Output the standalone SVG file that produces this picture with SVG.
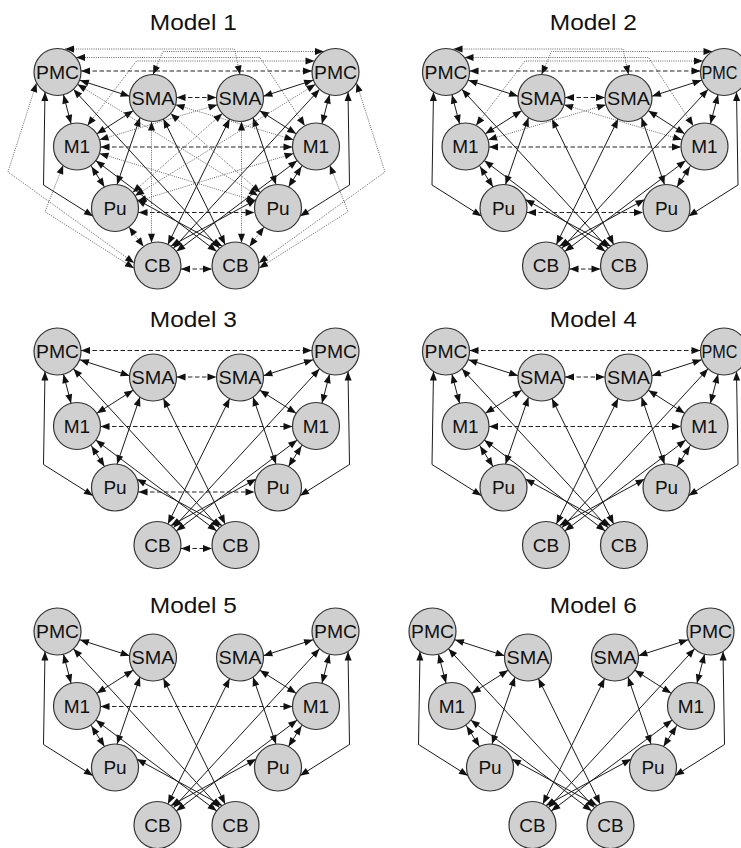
<svg xmlns="http://www.w3.org/2000/svg" width="741" height="848" viewBox="0 0 741 848">
<defs>
<style>
.n circle{fill:#d0d0d0;stroke:#333;stroke-width:1.2}
.n text{font-family:"Liberation Sans",Arial,sans-serif;font-size:19px;fill:#111;text-anchor:middle}
.title{font-family:"Liberation Sans",Arial,sans-serif;font-size:21.5px;fill:#111;text-anchor:middle}
.s{fill:none;stroke:#1a1a1a;stroke-width:1;marker-start:url(#c);marker-end:url(#c)}
.st{fill:none;stroke:#1a1a1a;stroke-width:1;marker-start:url(#t);marker-end:url(#t)}
.d{fill:none;stroke:#222;stroke-width:1;stroke-dasharray:4.5 2.5;marker-start:url(#c);marker-end:url(#c)}
.o{fill:none;stroke:#555;stroke-width:0.9;stroke-dasharray:1 1.2;marker-start:url(#c);marker-end:url(#c)}
.ot{fill:none;stroke:#555;stroke-width:0.9;stroke-dasharray:1 1.2;marker-start:url(#t);marker-end:url(#t)}
</style>
<marker id="c" markerUnits="userSpaceOnUse" markerWidth="1" markerHeight="1" refX="0" refY="0" orient="auto-start-reverse" overflow="visible" style="overflow:visible">
<path d="M-23.5,0 L-32.5,-3.5 L-32.5,3.5 Z" fill="#111"/>
</marker>
<marker id="t" markerUnits="userSpaceOnUse" markerWidth="1" markerHeight="1" refX="0" refY="0" orient="auto-start-reverse" overflow="visible" style="overflow:visible">
<path d="M0,0 L-9,-3.5 L-9,3.5 Z" fill="#111"/>
</marker>
</defs>
<rect width="741" height="848" fill="#fff"/>

<text class="title" x="193.3" y="29.5" textLength="87" lengthAdjust="spacingAndGlyphs">Model 1</text>
<text class="title" x="593.3" y="29.5" textLength="87" lengthAdjust="spacingAndGlyphs">Model 2</text>
<text class="title" x="193.3" y="327" textLength="87" lengthAdjust="spacingAndGlyphs">Model 3</text>
<text class="title" x="593.3" y="327" textLength="87" lengthAdjust="spacingAndGlyphs">Model 4</text>
<text class="title" x="193.3" y="613" textLength="87" lengthAdjust="spacingAndGlyphs">Model 5</text>
<text class="title" x="593.3" y="613" textLength="87" lengthAdjust="spacingAndGlyphs">Model 6</text>

<!-- MODEL 1 -->
<g id="model1" transform="translate(0,0)">
<g id="model1-connectors">
<path class="s" d="M57.5,73 L152,103.5"/><path class="s" d="M57.5,72 L77,146.5"/><path class="st" d="M45,92 L43.5,185 L93,216.2"/><path class="s" d="M57.5,72 L235.5,265.5"/><path class="s" d="M153,98 L77,146.5"/><path class="st" d="M140,117.6 L117,184.6"/><path class="s" d="M153,98 L235.5,265.5"/><path class="s" d="M79,146.5 L117,207"/><path class="s" d="M77,146.5 L235.5,265.5"/><path class="st" d="M136.9,199.6 L222.3,246.2"/>
<path class="s" d="M335.5,73 L241,103.5"/><path class="s" d="M335.5,72 L316,146.5"/><path class="st" d="M348,92 L349.5,185 L300,216.2"/><path class="s" d="M335.5,72 L157.5,265.5"/><path class="s" d="M240,98 L316,146.5"/><path class="st" d="M253,117.6 L276,184.6"/><path class="s" d="M240,98 L157.5,265.5"/><path class="s" d="M314,146.5 L276,207"/><path class="s" d="M316,146.5 L157.5,265.5"/><path class="st" d="M256.1,199.6 L170.7,246.2"/>
<path class="d" d="M57.5,71 L335.5,71"/><path class="d" d="M153,97.5 L240,97.5"/><path class="d" d="M77,147 L316,147"/><path class="d" d="M115,212.5 L278,212.5"/><path class="d" d="M157.5,269 L235.5,269"/>
<path class="ot" d="M65,49 L234.5,49 L240,74.5"/><path class="ot" d="M324,51.5 L163,51.5 L153,74.5"/><path class="ot" d="M76,57.5 L260,57.5 L304.8,125.8"/><path class="ot" d="M314.5,61 L136.5,61 L87.5,125.5"/>
<path class="o" d="M77,146.5 L240,98"/><path class="o" d="M153,98 L316,146.5"/>
<path class="o" d="M57.5,72 L278,208"/><path class="o" d="M335.5,72 L115,208"/><path class="o" d="M153,98 L278,208"/><path class="o" d="M240,98 L115,208"/><path class="o" d="M77,146.5 L278,208"/><path class="o" d="M316,146.5 L115,208"/>
<path class="ot" d="M36.5,83 L8,172 L134.2,263"/><path class="ot" d="M356.5,83 L385,172 L258.8,263"/><path class="ot" d="M63.2,165.2 L45,211.7 L134,268.2"/><path class="ot" d="M329.8,165.2 L348,211.7 L259,268.2"/><path class="ot" d="M151.5,121.5 L151.5,242.8"/><path class="ot" d="M241.5,121.5 L241.5,242.8"/>
<path class="o" d="M115,208 L157.5,265.5"/><path class="o" d="M278,208 L235.5,265.5"/>
</g>
<g id="m1-pmc-l" class="n"><circle cx="57.5" cy="72" r="23.5"/><text x="57.5" y="78.8" textLength="43" lengthAdjust="spacingAndGlyphs">PMC</text></g>
<g id="m1-sma-l" class="n"><circle cx="153" cy="98" r="23.5"/><text x="153" y="104.8" textLength="43" lengthAdjust="spacingAndGlyphs">SMA</text></g>
<g id="m1-m1-l" class="n"><circle cx="77" cy="146.5" r="23.5"/><text x="77" y="153.3">M1</text></g>
<g id="m1-pu-l" class="n"><circle cx="115" cy="208" r="23.5"/><text x="115" y="214.8">Pu</text></g>
<g id="m1-cb-l" class="n"><circle cx="157.5" cy="265.5" r="23.5"/><text x="157.5" y="272.3">CB</text></g>
<g id="m1-pmc-r" class="n"><circle cx="335.5" cy="72" r="23.5"/><text x="335.5" y="78.8" textLength="43" lengthAdjust="spacingAndGlyphs">PMC</text></g>
<g id="m1-sma-r" class="n"><circle cx="240" cy="98" r="23.5"/><text x="240" y="104.8" textLength="43" lengthAdjust="spacingAndGlyphs">SMA</text></g>
<g id="m1-m1-r" class="n"><circle cx="316" cy="146.5" r="23.5"/><text x="316" y="153.3">M1</text></g>
<g id="m1-pu-r" class="n"><circle cx="278" cy="208" r="23.5"/><text x="278" y="214.8">Pu</text></g>
<g id="m1-cb-r" class="n"><circle cx="235.5" cy="265.5" r="23.5"/><text x="235.5" y="272.3">CB</text></g>
</g>

<!-- MODEL 2 -->
<g id="model2" transform="translate(388.5,0)">
<g id="model2-connectors">
<path class="s" d="M57.5,73 L152,103.5"/><path class="s" d="M57.5,72 L77,146.5"/><path class="st" d="M45,92 L43.5,185 L93,216.2"/><path class="s" d="M57.5,72 L235.5,265.5"/><path class="s" d="M153,98 L77,146.5"/><path class="st" d="M140,117.6 L117,184.6"/><path class="s" d="M153,98 L235.5,265.5"/><path class="s" d="M79,146.5 L117,207"/><path class="s" d="M77,146.5 L235.5,265.5"/><path class="st" d="M136.9,199.6 L222.3,246.2"/>
<path class="s" d="M335.5,73 L241,103.5"/><path class="s" d="M335.5,72 L316,146.5"/><path class="st" d="M348,92 L349.5,185 L300,216.2"/><path class="s" d="M335.5,72 L157.5,265.5"/><path class="s" d="M240,98 L316,146.5"/><path class="st" d="M253,117.6 L276,184.6"/><path class="s" d="M240,98 L157.5,265.5"/><path class="s" d="M314,146.5 L276,207"/><path class="s" d="M316,146.5 L157.5,265.5"/><path class="st" d="M256.1,199.6 L170.7,246.2"/>
<path class="d" d="M57.5,71 L335.5,71"/><path class="d" d="M153,97.5 L240,97.5"/><path class="d" d="M77,147 L316,147"/><path class="d" d="M115,212.5 L278,212.5"/><path class="d" d="M157.5,269 L235.5,269"/>
<path class="ot" d="M65,49 L234.5,49 L240,74.5"/><path class="ot" d="M324,51.5 L163,51.5 L153,74.5"/><path class="ot" d="M76,57.5 L260,57.5 L304.8,125.8"/><path class="ot" d="M314.5,61 L136.5,61 L87.5,125.5"/>
<path class="o" d="M77,146.5 L240,98"/><path class="o" d="M153,98 L316,146.5"/>
</g>
<g id="m2-pmc-l" class="n"><circle cx="57.5" cy="72" r="23.5"/><text x="57.5" y="78.8" textLength="43" lengthAdjust="spacingAndGlyphs">PMC</text></g>
<g id="m2-sma-l" class="n"><circle cx="153" cy="98" r="23.5"/><text x="153" y="104.8" textLength="43" lengthAdjust="spacingAndGlyphs">SMA</text></g>
<g id="m2-m1-l" class="n"><circle cx="77" cy="146.5" r="23.5"/><text x="77" y="153.3">M1</text></g>
<g id="m2-pu-l" class="n"><circle cx="115" cy="208" r="23.5"/><text x="115" y="214.8">Pu</text></g>
<g id="m2-cb-l" class="n"><circle cx="157.5" cy="265.5" r="23.5"/><text x="157.5" y="272.3">CB</text></g>
<g id="m2-pmc-r" class="n"><circle cx="335.5" cy="72" r="23.5"/><text x="331" y="78.8" textLength="36" lengthAdjust="spacingAndGlyphs">PMC</text></g>
<g id="m2-sma-r" class="n"><circle cx="240" cy="98" r="23.5"/><text x="240" y="104.8" textLength="43" lengthAdjust="spacingAndGlyphs">SMA</text></g>
<g id="m2-m1-r" class="n"><circle cx="316" cy="146.5" r="23.5"/><text x="316" y="153.3">M1</text></g>
<g id="m2-pu-r" class="n"><circle cx="278" cy="208" r="23.5"/><text x="278" y="214.8">Pu</text></g>
<g id="m2-cb-r" class="n"><circle cx="235.5" cy="265.5" r="23.5"/><text x="235.5" y="272.3">CB</text></g>
</g>

<!-- MODEL 3 -->
<g id="model3" transform="translate(0,279.5)">
<g id="model3-connectors">
<path class="s" d="M57.5,73 L152,103.5"/><path class="s" d="M57.5,72 L77,146.5"/><path class="st" d="M45,92 L43.5,185 L93,216.2"/><path class="s" d="M57.5,72 L235.5,265.5"/><path class="s" d="M153,98 L77,146.5"/><path class="st" d="M140,117.6 L117,184.6"/><path class="s" d="M153,98 L235.5,265.5"/><path class="s" d="M79,146.5 L117,207"/><path class="s" d="M77,146.5 L235.5,265.5"/><path class="st" d="M136.9,199.6 L222.3,246.2"/>
<path class="s" d="M335.5,73 L241,103.5"/><path class="s" d="M335.5,72 L316,146.5"/><path class="st" d="M348,92 L349.5,185 L300,216.2"/><path class="s" d="M335.5,72 L157.5,265.5"/><path class="s" d="M240,98 L316,146.5"/><path class="st" d="M253,117.6 L276,184.6"/><path class="s" d="M240,98 L157.5,265.5"/><path class="s" d="M314,146.5 L276,207"/><path class="s" d="M316,146.5 L157.5,265.5"/><path class="st" d="M256.1,199.6 L170.7,246.2"/>
<path class="d" d="M57.5,71 L335.5,71"/><path class="d" d="M153,97.5 L240,97.5"/><path class="d" d="M77,147 L316,147"/><path class="d" d="M115,212.5 L278,212.5"/><path class="d" d="M157.5,269 L235.5,269"/>
</g>
<g id="m3-pmc-l" class="n"><circle cx="57.5" cy="72" r="23.5"/><text x="57.5" y="78.8" textLength="43" lengthAdjust="spacingAndGlyphs">PMC</text></g>
<g id="m3-sma-l" class="n"><circle cx="153" cy="98" r="23.5"/><text x="153" y="104.8" textLength="43" lengthAdjust="spacingAndGlyphs">SMA</text></g>
<g id="m3-m1-l" class="n"><circle cx="77" cy="146.5" r="23.5"/><text x="77" y="153.3">M1</text></g>
<g id="m3-pu-l" class="n"><circle cx="115" cy="208" r="23.5"/><text x="115" y="214.8">Pu</text></g>
<g id="m3-cb-l" class="n"><circle cx="157.5" cy="265.5" r="23.5"/><text x="157.5" y="272.3">CB</text></g>
<g id="m3-pmc-r" class="n"><circle cx="335.5" cy="72" r="23.5"/><text x="335.5" y="78.8" textLength="43" lengthAdjust="spacingAndGlyphs">PMC</text></g>
<g id="m3-sma-r" class="n"><circle cx="240" cy="98" r="23.5"/><text x="240" y="104.8" textLength="43" lengthAdjust="spacingAndGlyphs">SMA</text></g>
<g id="m3-m1-r" class="n"><circle cx="316" cy="146.5" r="23.5"/><text x="316" y="153.3">M1</text></g>
<g id="m3-pu-r" class="n"><circle cx="278" cy="208" r="23.5"/><text x="278" y="214.8">Pu</text></g>
<g id="m3-cb-r" class="n"><circle cx="235.5" cy="265.5" r="23.5"/><text x="235.5" y="272.3">CB</text></g>
</g>

<!-- MODEL 4 -->
<g id="model4" transform="translate(388.5,279.5)">
<g id="model4-connectors">
<path class="s" d="M57.5,73 L152,103.5"/><path class="s" d="M57.5,72 L77,146.5"/><path class="st" d="M45,92 L43.5,185 L93,216.2"/><path class="s" d="M57.5,72 L235.5,265.5"/><path class="s" d="M153,98 L77,146.5"/><path class="st" d="M140,117.6 L117,184.6"/><path class="s" d="M153,98 L235.5,265.5"/><path class="s" d="M79,146.5 L117,207"/><path class="s" d="M77,146.5 L235.5,265.5"/><path class="st" d="M136.9,199.6 L222.3,246.2"/>
<path class="s" d="M335.5,73 L241,103.5"/><path class="s" d="M335.5,72 L316,146.5"/><path class="st" d="M348,92 L349.5,185 L300,216.2"/><path class="s" d="M335.5,72 L157.5,265.5"/><path class="s" d="M240,98 L316,146.5"/><path class="st" d="M253,117.6 L276,184.6"/><path class="s" d="M240,98 L157.5,265.5"/><path class="s" d="M314,146.5 L276,207"/><path class="s" d="M316,146.5 L157.5,265.5"/><path class="st" d="M256.1,199.6 L170.7,246.2"/>
<path class="d" d="M57.5,71 L335.5,71"/><path class="d" d="M153,97.5 L240,97.5"/><path class="d" d="M77,147 L316,147"/>
</g>
<g id="m4-pmc-l" class="n"><circle cx="57.5" cy="72" r="23.5"/><text x="57.5" y="78.8" textLength="43" lengthAdjust="spacingAndGlyphs">PMC</text></g>
<g id="m4-sma-l" class="n"><circle cx="153" cy="98" r="23.5"/><text x="153" y="104.8" textLength="43" lengthAdjust="spacingAndGlyphs">SMA</text></g>
<g id="m4-m1-l" class="n"><circle cx="77" cy="146.5" r="23.5"/><text x="77" y="153.3">M1</text></g>
<g id="m4-pu-l" class="n"><circle cx="115" cy="208" r="23.5"/><text x="115" y="214.8">Pu</text></g>
<g id="m4-cb-l" class="n"><circle cx="157.5" cy="265.5" r="23.5"/><text x="157.5" y="272.3">CB</text></g>
<g id="m4-pmc-r" class="n"><circle cx="335.5" cy="72" r="23.5"/><text x="331" y="78.8" textLength="36" lengthAdjust="spacingAndGlyphs">PMC</text></g>
<g id="m4-sma-r" class="n"><circle cx="240" cy="98" r="23.5"/><text x="240" y="104.8" textLength="43" lengthAdjust="spacingAndGlyphs">SMA</text></g>
<g id="m4-m1-r" class="n"><circle cx="316" cy="146.5" r="23.5"/><text x="316" y="153.3">M1</text></g>
<g id="m4-pu-r" class="n"><circle cx="278" cy="208" r="23.5"/><text x="278" y="214.8">Pu</text></g>
<g id="m4-cb-r" class="n"><circle cx="235.5" cy="265.5" r="23.5"/><text x="235.5" y="272.3">CB</text></g>
</g>

<!-- MODEL 5 -->
<g id="model5" transform="translate(0,559.5)">
<g id="model5-connectors">
<path class="s" d="M57.5,73 L152,103.5"/><path class="s" d="M57.5,72 L77,146.5"/><path class="st" d="M45,92 L43.5,185 L93,216.2"/><path class="s" d="M57.5,72 L235.5,265.5"/><path class="s" d="M153,98 L77,146.5"/><path class="st" d="M140,117.6 L117,184.6"/><path class="s" d="M153,98 L235.5,265.5"/><path class="s" d="M79,146.5 L117,207"/><path class="s" d="M77,146.5 L235.5,265.5"/><path class="st" d="M136.9,199.6 L222.3,246.2"/>
<path class="s" d="M335.5,73 L241,103.5"/><path class="s" d="M335.5,72 L316,146.5"/><path class="st" d="M348,92 L349.5,185 L300,216.2"/><path class="s" d="M335.5,72 L157.5,265.5"/><path class="s" d="M240,98 L316,146.5"/><path class="st" d="M253,117.6 L276,184.6"/><path class="s" d="M240,98 L157.5,265.5"/><path class="s" d="M314,146.5 L276,207"/><path class="s" d="M316,146.5 L157.5,265.5"/><path class="st" d="M256.1,199.6 L170.7,246.2"/>
<path class="d" d="M77,147 L316,147"/>
</g>
<g id="m5-pmc-l" class="n"><circle cx="57.5" cy="72" r="23.5"/><text x="57.5" y="78.8" textLength="43" lengthAdjust="spacingAndGlyphs">PMC</text></g>
<g id="m5-sma-l" class="n"><circle cx="153" cy="98" r="23.5"/><text x="153" y="104.8" textLength="43" lengthAdjust="spacingAndGlyphs">SMA</text></g>
<g id="m5-m1-l" class="n"><circle cx="77" cy="146.5" r="23.5"/><text x="77" y="153.3">M1</text></g>
<g id="m5-pu-l" class="n"><circle cx="115" cy="208" r="23.5"/><text x="115" y="214.8">Pu</text></g>
<g id="m5-cb-l" class="n"><circle cx="157.5" cy="265.5" r="23.5"/><text x="157.5" y="272.3">CB</text></g>
<g id="m5-pmc-r" class="n"><circle cx="335.5" cy="72" r="23.5"/><text x="335.5" y="78.8" textLength="43" lengthAdjust="spacingAndGlyphs">PMC</text></g>
<g id="m5-sma-r" class="n"><circle cx="240" cy="98" r="23.5"/><text x="240" y="104.8" textLength="43" lengthAdjust="spacingAndGlyphs">SMA</text></g>
<g id="m5-m1-r" class="n"><circle cx="316" cy="146.5" r="23.5"/><text x="316" y="153.3">M1</text></g>
<g id="m5-pu-r" class="n"><circle cx="278" cy="208" r="23.5"/><text x="278" y="214.8">Pu</text></g>
<g id="m5-cb-r" class="n"><circle cx="235.5" cy="265.5" r="23.5"/><text x="235.5" y="272.3">CB</text></g>
</g>

<!-- MODEL 6 -->
<g id="model6" transform="translate(375,559.5)">
<g id="model6-connectors">
<path class="s" d="M57.5,73 L152,103.5"/><path class="s" d="M57.5,72 L77,146.5"/><path class="st" d="M45,92 L43.5,185 L93,216.2"/><path class="s" d="M57.5,72 L235.5,265.5"/><path class="s" d="M153,98 L77,146.5"/><path class="st" d="M140,117.6 L117,184.6"/><path class="s" d="M153,98 L235.5,265.5"/><path class="s" d="M79,146.5 L117,207"/><path class="s" d="M77,146.5 L235.5,265.5"/><path class="st" d="M136.9,199.6 L222.3,246.2"/>
<path class="s" d="M335.5,73 L241,103.5"/><path class="s" d="M335.5,72 L316,146.5"/><path class="st" d="M348,92 L349.5,185 L300,216.2"/><path class="s" d="M335.5,72 L157.5,265.5"/><path class="s" d="M240,98 L316,146.5"/><path class="st" d="M253,117.6 L276,184.6"/><path class="s" d="M240,98 L157.5,265.5"/><path class="s" d="M314,146.5 L276,207"/><path class="s" d="M316,146.5 L157.5,265.5"/><path class="st" d="M256.1,199.6 L170.7,246.2"/>
</g>
<g id="m6-pmc-l" class="n"><circle cx="57.5" cy="72" r="23.5"/><text x="57.5" y="78.8" textLength="43" lengthAdjust="spacingAndGlyphs">PMC</text></g>
<g id="m6-sma-l" class="n"><circle cx="153" cy="98" r="23.5"/><text x="153" y="104.8" textLength="43" lengthAdjust="spacingAndGlyphs">SMA</text></g>
<g id="m6-m1-l" class="n"><circle cx="77" cy="146.5" r="23.5"/><text x="77" y="153.3">M1</text></g>
<g id="m6-pu-l" class="n"><circle cx="115" cy="208" r="23.5"/><text x="115" y="214.8">Pu</text></g>
<g id="m6-cb-l" class="n"><circle cx="157.5" cy="265.5" r="23.5"/><text x="157.5" y="272.3">CB</text></g>
<g id="m6-pmc-r" class="n"><circle cx="335.5" cy="72" r="23.5"/><text x="335.5" y="78.8" textLength="43" lengthAdjust="spacingAndGlyphs">PMC</text></g>
<g id="m6-sma-r" class="n"><circle cx="240" cy="98" r="23.5"/><text x="240" y="104.8" textLength="43" lengthAdjust="spacingAndGlyphs">SMA</text></g>
<g id="m6-m1-r" class="n"><circle cx="316" cy="146.5" r="23.5"/><text x="316" y="153.3">M1</text></g>
<g id="m6-pu-r" class="n"><circle cx="278" cy="208" r="23.5"/><text x="278" y="214.8">Pu</text></g>
<g id="m6-cb-r" class="n"><circle cx="235.5" cy="265.5" r="23.5"/><text x="235.5" y="272.3">CB</text></g>
</g>
</svg>
